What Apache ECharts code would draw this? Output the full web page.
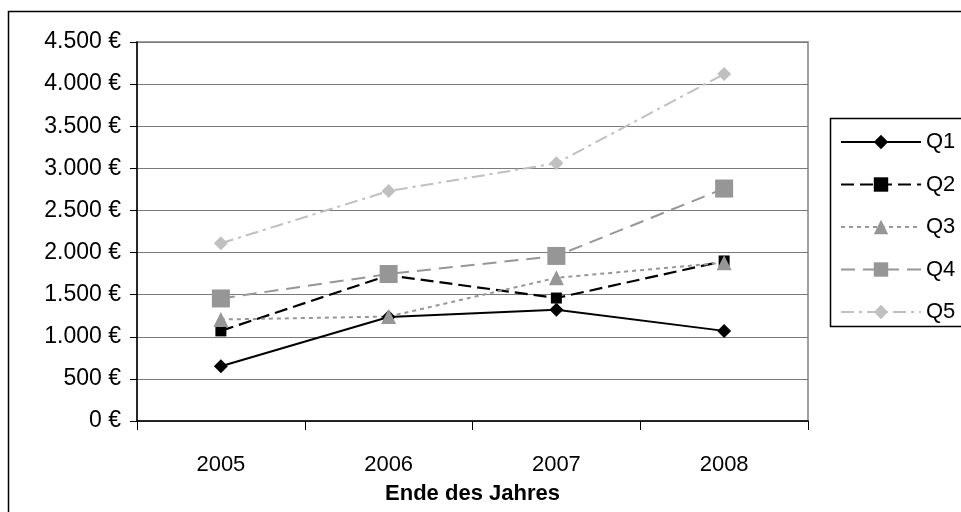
<!DOCTYPE html>
<html>
<head>
<meta charset="utf-8">
<script src="https://cdn.jsdelivr.net/npm/echarts@6/dist/echarts.min.js"></script>
<style>html,body{margin:0;padding:0;background:#fff;}#c{width:961px;height:512px;}</style>
</head>
<body>
<div id="c"></div>
<script>
var categories = ['2005', '2006', '2007', '2008'];
var q1 = [650, 1235, 1320, 1070];
var q2 = [1070, 1730, 1460, 1900];
var q3 = [1205, 1240, 1700, 1880];
var q4 = [1455, 1745, 1960, 2760];
var q5 = [2110, 2730, 3060, 4120];
var yTickLabels = ['0 €', '500 €', '1.000 €', '1.500 €', '2.000 €', '2.500 €', '3.000 €', '3.500 €', '4.000 €', '4.500 €'];
var seriesNames = ['Q1', 'Q2', 'Q3', 'Q4', 'Q5'];

var FONT = '"Liberation Sans", Arial, sans-serif';
var chart = echarts.init(document.getElementById('c'), null, {renderer: 'canvas'});

function mk(name, data, color, dash, symbol, size, width) {
  return {
    name: name, type: 'line', data: data,
    symbol: symbol, symbolSize: size, showSymbol: true,
    itemStyle: {color: color},
    lineStyle: {color: color, width: width, type: dash},
    emphasis: {disabled: true},
    animation: false, z: 3
  };
}

chart.setOption({
  animation: false,
  backgroundColor: '#fff',
  textStyle: {fontFamily: FONT},
  graphic: [
    {type: 'rect', shape: {x: 8.5, y: 11.5, width: 1000, height: 600}, style: {fill: 'none', stroke: '#000', lineWidth: 1.5}, z: 0},
    {type: 'rect', shape: {x: 830.5, y: 118.5, width: 200, height: 208}, style: {fill: '#fff', stroke: '#000', lineWidth: 1.5}, z: 1}
  ],
  grid: {left: 137, right: 153, top: 42, bottom: 91, show: true, borderColor: '#a0a0a0', borderWidth: 2, backgroundColor: 'transparent'},
  legend: {
    orient: 'vertical', left: 840, top: 131, padding: 0, itemWidth: 80, itemHeight: 18, itemGap: 20.5,
    data: seriesNames,
    textStyle: {fontFamily: FONT, fontSize: 22, color: '#000', lineHeight: 20},
    z: 5
  },
  xAxis: {
    type: 'category', data: categories, boundaryGap: true,
    axisLine: {lineStyle: {color: '#000', width: 1.5}},
    axisTick: {show: true, length: 9, lineStyle: {color: '#000'}},
    axisLabel: {fontFamily: FONT, fontSize: 22, color: '#000', margin: 33},
    name: 'Ende des Jahres', nameLocation: 'middle', nameGap: 62,
    nameTextStyle: {fontFamily: FONT, fontSize: 22, fontWeight: 'bold', color: '#000'}
  },
  yAxis: {
    type: 'value', min: 0, max: 4500, interval: 500,
    axisLine: {show: true, lineStyle: {color: '#000', width: 1.5}},
    axisTick: {show: true, length: 7, lineStyle: {color: '#000'}},
    splitLine: {show: true, lineStyle: {color: '#7a7a7a', width: 1.2}},
    axisLabel: {fontFamily: FONT, fontSize: 23, color: '#000', margin: 16,
      formatter: function (v) { return yTickLabels[Math.round(v / 500)]; }}
  },
  series: [
    mk('Q1', q1, '#000000', 'solid', 'diamond', 14, 2),
    mk('Q2', q2, '#000000', [13, 6], 'rect', 11, 2.2),
    mk('Q3', q3, '#969696', [4, 4], 'triangle', 15, 2),
    mk('Q4', q4, '#969696', [14, 8], 'rect', 18, 2),
    mk('Q5', q5, '#c0c0c0', [13, 5, 3, 5], 'diamond', 14, 2)
  ]
});
</script>
</body>
</html>
